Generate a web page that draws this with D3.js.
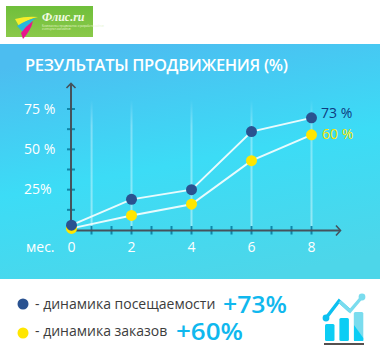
<!DOCTYPE html>
<html>
<head>
<meta charset="utf-8">
<script src="https://cdn.jsdelivr.net/npm/d3@7"></script>
<style>
  html, body { margin: 0; padding: 0; background: #fff; }
  svg { display: block; }
  text { font-family: "Open Sans", "Noto Sans", sans-serif; }
</style>
</head>
<body>
<svg width="380" height="359"></svg>
<script>
// Данные
const months = [0, 2, 4, 6, 8];
const visits = [3, 19, 25, 61, 69.5];
const orders = [1, 9, 16, 43, 59];
const yLabels = [[75, "75 %"], [50, "50 %"], [25, "25%"]];
const guideMonths = [0.67, 2, 4, 6, 8];
const iconBars = [17, 23, 29];

const svg = d3.select("svg");
const defs = svg.append("defs");

// Шкалы
const x = d3.scaleLinear().domain([0, 8]).range([71.5, 311.5]);
const y = d3.scaleLinear().domain([0, 75]).range([230, 109]);

// Фон
const bg = defs.append("linearGradient").attr("id", "bg")
  .attr("x1", 0.35).attr("y1", 0).attr("x2", 0.65).attr("y2", 1);
bg.append("stop").attr("offset", 0).attr("stop-color", "#4cbdf0");
bg.append("stop").attr("offset", 0.5).attr("stop-color", "#3cdcf6");
bg.append("stop").attr("offset", 1).attr("stop-color", "#4dd6e9");

svg.append("rect").attr("y", 44).attr("width", 380).attr("height", 235).attr("fill", "url(#bg)");

// Логотип
const logoBg = defs.append("linearGradient").attr("id", "logoBg")
  .attr("x1", 0).attr("y1", 0).attr("x2", 0).attr("y2", 1);
logoBg.append("stop").attr("offset", 0).attr("stop-color", "#6fbf3a");
logoBg.append("stop").attr("offset", 1).attr("stop-color", "#8ac94a");

const logo = svg.append("g").attr("transform", "translate(6,6)");
logo.append("rect").attr("width", 87).attr("height", 31).attr("fill", "url(#logoBg)");
logo.append("path").attr("d", "M9 13 Q20 10 32 11 Q22 13 13 20 Z").attr("fill", "#f6ee2a");
logo.append("path").attr("d", "M11 20 Q20 14 30 12 Q22 18 17 26 Z").attr("fill", "#27b6dc");
logo.append("path").attr("d", "M15 27 Q20 20 27 15 Q25 24 17 33 Z").attr("fill", "#e8158c");
logo.append("text").attr("x", 36).attr("y", 15).attr("font-size", 12).attr("font-weight", 700)
  .attr("font-style", "italic").style("font-family", "Liberation Serif").attr("fill", "#f2fbe4").text("Флис.ru");
logo.append("text").attr("x", 36).attr("y", 20.5).attr("font-size", 2.6).attr("fill", "#e6f5d0")
  .text("Комплексное продвижение и разработка сайтов");
logo.append("text").attr("x", 36).attr("y", 24).attr("font-size", 2.6).attr("fill", "#e6f5d0")
  .text("и интернет-магазинов");

// Заголовок
svg.append("text").attr("x", 25).attr("y", 71).attr("font-size", 16.5).attr("font-weight", 600)
  .attr("fill", "#fff").attr("textLength", 263).text("РЕЗУЛЬТАТЫ ПРОДВИЖЕНИЯ (%)");

// Вертикальные полосы
const guide = defs.append("linearGradient").attr("id", "guide")
  .attr("gradientUnits", "userSpaceOnUse").attr("x1", 0).attr("y1", 100).attr("x2", 0).attr("y2", 230);
guide.append("stop").attr("offset", 0).attr("stop-color", "#fff").attr("stop-opacity", 0);
guide.append("stop").attr("offset", 0.2).attr("stop-color", "#fff").attr("stop-opacity", 0.32);
guide.append("stop").attr("offset", 1).attr("stop-color", "#fff").attr("stop-opacity", 0.42);

svg.selectAll(".guide").data(guideMonths).enter().append("rect")
  .attr("class", "guide")
  .attr("x", d => x(d) - 1).attr("y", 100)
  .attr("width", 2).attr("height", 130)
  .attr("fill", "url(#guide)");

// Оси
const axisColor = "#45525c";
const tickColor = "#0f87aa";

const yTicks = [12.5, 25, 37.5, 50, 62.5, 75];
svg.selectAll(".ytick").data(yTicks).enter().append("line")
  .attr("x1", 67).attr("x2", 75)
  .attr("y1", d => y(d)).attr("y2", d => y(d))
  .attr("stroke", tickColor).attr("stroke-width", 2);

const xTicks = d3.range(2 / 3, 8.01, 2 / 3);
svg.selectAll(".xtick").data(xTicks).enter().append("line")
  .attr("x1", d => x(d)).attr("x2", d => x(d))
  .attr("y1", 226).attr("y2", 234.5)
  .attr("stroke", tickColor).attr("stroke-width", 2);

svg.append("path").attr("d", "M71 84 V230.5 H340")
  .attr("fill", "none").attr("stroke", axisColor).attr("stroke-width", 2);
svg.append("path").attr("d", "M66.5 88 L71 83.5 L75.5 88")
  .attr("fill", "none").attr("stroke", axisColor).attr("stroke-width", 1.6);
svg.append("path").attr("d", "M336 225.5 L340.5 230.5 L336 235.5")
  .attr("fill", "none").attr("stroke", axisColor).attr("stroke-width", 1.6);

// Подписи осей
svg.selectAll(".ylabel").data(yLabels).enter().append("text")
  .attr("x", 24).attr("y", d => y(d[0]) + 4.5)
  .attr("font-size", 14).attr("fill", "#fff").text(d => d[1]);

svg.selectAll(".xlabel").data(months).enter().append("text")
  .attr("x", d => x(d)).attr("y", 252)
  .attr("text-anchor", "middle").attr("font-size", 14).attr("fill", "#fff").text(d => d);

svg.append("text").attr("x", 26).attr("y", 252).attr("font-size", 14).attr("fill", "#fff").text("мес.");

// Линии
const line = d3.line().x((d, i) => x(months[i])).y(d => y(d));

[orders, visits].forEach(s => {
  svg.append("path").attr("d", line(s)).attr("fill", "none")
    .attr("stroke", "#e8fbfd").attr("stroke-width", 2);
});

// Точки
svg.selectAll(".order").data(orders).enter().append("circle")
  .attr("cx", (d, i) => x(months[i])).attr("cy", d => y(d)).attr("r", 5.5).attr("fill", "#ffe600");
svg.selectAll(".visit").data(visits).enter().append("circle")
  .attr("cx", (d, i) => x(months[i])).attr("cy", d => y(d)).attr("r", 5.5).attr("fill", "#2a5290");

svg.append("text").attr("x", 321).attr("y", 118).attr("font-size", 14).attr("fill", "#0e3a80").text("73 %");
svg.append("text").attr("x", 322).attr("y", 139).attr("font-size", 14).attr("fill", "#ffe600").text("60 %");

// Легенда
svg.append("circle").attr("cx", 23).attr("cy", 304).attr("r", 5.5).attr("fill", "#2a5290");
svg.append("circle").attr("cx", 23).attr("cy", 333).attr("r", 5.5).attr("fill", "#ffe600");
svg.append("text").attr("x", 35).attr("y", 309).attr("font-size", 14).attr("fill", "#3c3c3c").text("- динамика посещаемости");
svg.append("text").attr("x", 35).attr("y", 336).attr("font-size", 14).attr("fill", "#3c3c3c").text("- динамика заказов");
svg.append("text").attr("x", 223).attr("y", 312.5).attr("font-size", 24).attr("font-weight", 600)
  .attr("textLength", 64).attr("lengthAdjust", "spacingAndGlyphs").attr("fill", "#10b8ee").text("+73%");
svg.append("text").attr("x", 176).attr("y", 339.5).attr("font-size", 24).attr("font-weight", 600)
  .attr("textLength", 67).attr("lengthAdjust", "spacingAndGlyphs").attr("fill", "#10b8ee").text("+60%");

// Значок
const icon = svg.append("g");
icon.selectAll(".bar").data(iconBars).enter().append("rect")
  .attr("x", (d, i) => 325 + i * 14.4).attr("y", d => 341 - d)
  .attr("width", 9.5).attr("height", d => d).attr("rx", 1.5)
  .attr("fill", (d, i) => i === 2 ? "#7adcee" : "#0ccdf4");
icon.append("path").attr("d", "M354 325 L363.3 338 V341 H354 Z").attr("fill", "#0ccdf4");
icon.append("path").attr("d", "M326 318 L339 301 L350 311").attr("fill", "none")
  .attr("stroke", "#0cc0f0").attr("stroke-width", 3.4);
icon.append("path").attr("d", "M339.6 301.5 L350 311 L362 297").attr("fill", "none")
  .attr("stroke", "#7adcee").attr("stroke-width", 3.4);
icon.append("circle").attr("cx", 326).attr("cy", 318).attr("r", 3.4).attr("fill", "#0cc0f0");
icon.append("circle").attr("cx", 362).attr("cy", 297).attr("r", 3.4).attr("fill", "#7adcee");
icon.append("rect").attr("x", 324).attr("y", 343).attr("width", 40).attr("height", 2).attr("fill", "#55504f");
</script>
</body>
</html>
